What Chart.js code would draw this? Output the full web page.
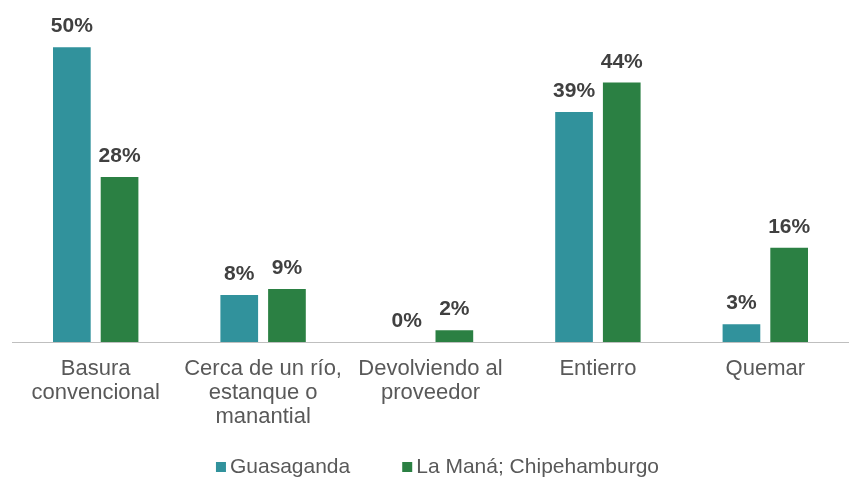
<!DOCTYPE html>
<html>
<head>
<meta charset="utf-8">
<script src="https://cdn.jsdelivr.net/npm/chart.js@4"></script>
<style>
  html, body { margin: 0; padding: 0; background: #fff; }
  #wrap { width: 849px; height: 478px; }
</style>
</head>
<body>
<div id="wrap"><canvas id="grafico"></canvas></div>
<script>
// categorías (eje x)
const categorias = [
    ['Basura', 'convencional'],
    ['Cerca de un río,', 'estanque o', 'manantial'],
    ['Devolviendo al', 'proveedor'],
    'Entierro',
    'Quemar'
];

// porcentajes por zona
const guasaganda = [50, 8, 0, 39, 3];
const laMana = [28, 9, 2, 44, 16];

const fuente = '"Liberation Sans", Arial, sans-serif';

// etiquetas de valor encima de cada barra
const etiquetasValor = {
    id: 'etiquetasValor',
    afterDatasetsDraw(chart) {
        const ctx = chart.ctx;
        ctx.save();
        ctx.font = 'bold 21px ' + fuente;
        ctx.fillStyle = '#404040';
        ctx.textAlign = 'center';
        ctx.textBaseline = 'alphabetic';
        chart.data.datasets.forEach((ds, i) => {
            chart.getDatasetMeta(i).data.forEach((bar, j) => {
                ctx.fillText(ds.data[j] + '%', bar.x, bar.y - 15);
            });
        });
        ctx.restore();
    }
};

// leyenda dibujada a mano al pie (cuadro + texto, separación amplia)
const leyendaPie = {
    id: 'leyendaPie',
    afterDraw(chart) {
        const ctx = chart.ctx;
        const caja = 10, hueco = 4, sep = 52;
        const y = chart.height - 11;
        ctx.save();
        ctx.font = '21px ' + fuente;
        ctx.textBaseline = 'middle';
        const items = chart.data.datasets.map(ds => ({
            texto: ds.label,
            color: ds.backgroundColor,
            ancho: caja + hueco + ctx.measureText(ds.label).width
        }));
        const total = items.reduce((s, it) => s + it.ancho, 0) + sep * (items.length - 1);
        let x = (chart.chartArea.left + chart.chartArea.right) / 2 + 7 - total / 2;
        items.forEach(it => {
            ctx.fillStyle = it.color;
            ctx.fillRect(x, y - caja / 2, caja, caja);
            ctx.fillStyle = '#595959';
            ctx.fillText(it.texto, x + caja + hueco, y);
            x += it.ancho + sep;
        });
        ctx.restore();
    }
};

const data = {
    labels: categorias,
    datasets: [
        {
            label: 'Guasaganda',
            data: guasaganda,
            backgroundColor: '#31929C',
            barPercentage: 0.79,
            categoryPercentage: 0.57
        },
        {
            label: 'La Maná; Chipehamburgo',
            data: laMana,
            backgroundColor: '#2B8043',
            barPercentage: 0.79,
            categoryPercentage: 0.57
        }
    ]
};

const config = {
    type: 'bar',
    data: data,
    plugins: [etiquetasValor, leyendaPie],
    options: {
        responsive: true,
        maintainAspectRatio: false,
        animation: false,
        layout: { padding: { left: 12, right: -6, top: 0, bottom: 42 } },
        plugins: {
            tooltip: { enabled: false },
            legend: { display: false }
        },
        scales: {
            x: {
                grid: { display: false },
                border: { color: '#BFBFBF', width: 1 },
                ticks: {
                    color: '#595959',
                    maxRotation: 0,
                    autoSkip: false,
                    padding: 7,
                    font: { family: fuente, size: 22, lineHeight: 1.09 }
                }
            },
            y: {
                display: false,
                min: 0,
                max: 58
            }
        }
    }
};

const myChart = new Chart(document.getElementById('grafico'), config);
</script>
</body>
</html>
